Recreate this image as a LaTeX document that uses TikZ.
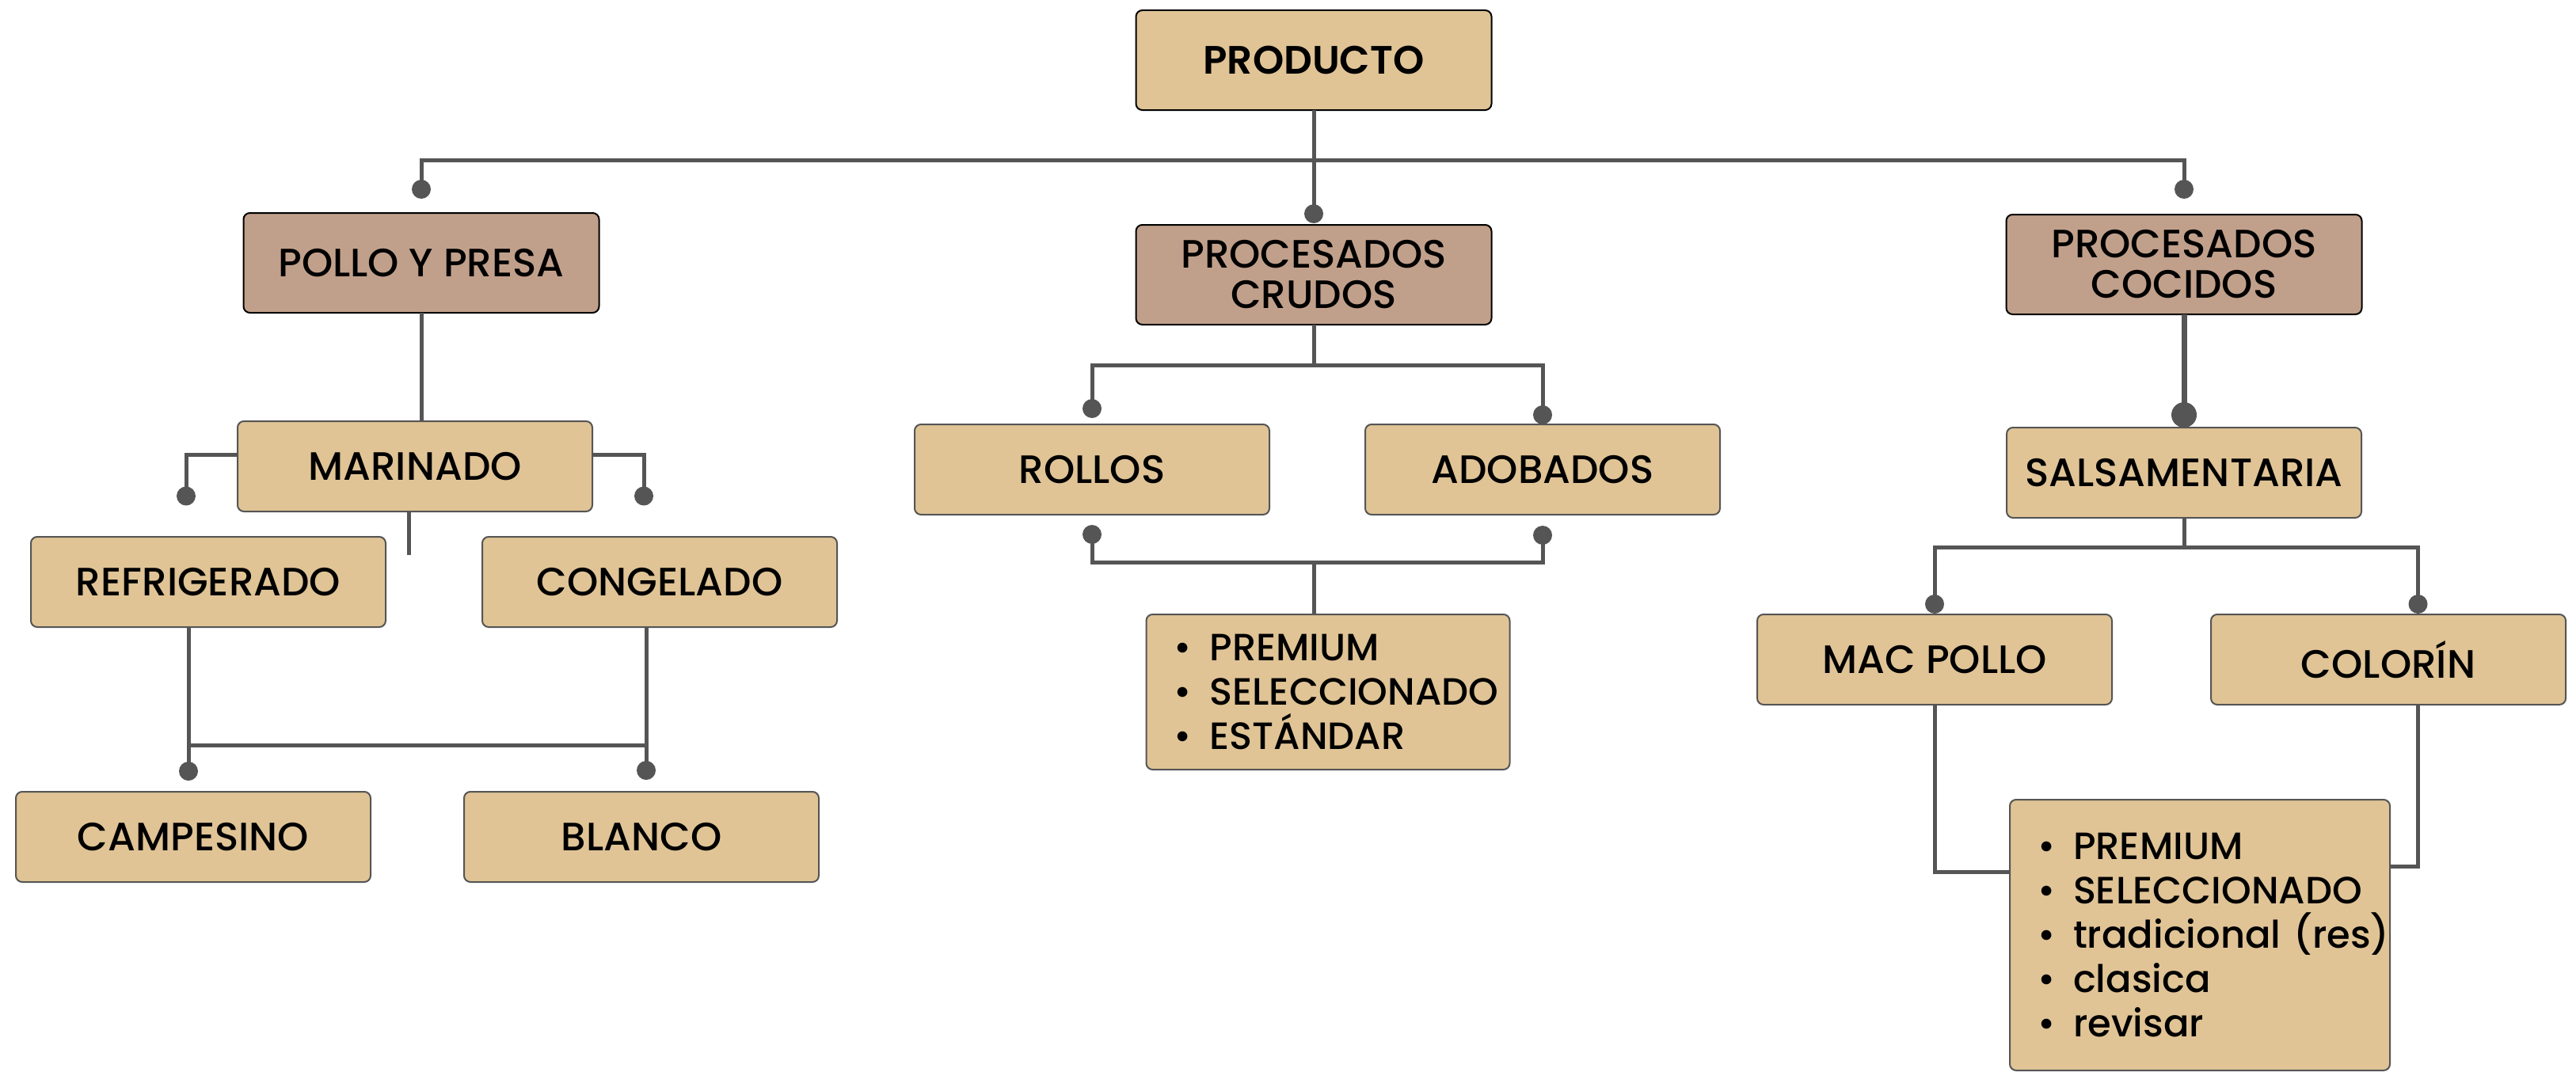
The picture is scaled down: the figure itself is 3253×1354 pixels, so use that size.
\documentclass[tikz,border=0pt]{standalone}
\usepackage{fontspec}
\setmainfont{Poppins Medium}[BoldFont=Poppins SemiBold]
\usetikzlibrary{positioning}
\definecolor{arena}{RGB}{224,196,150}
\definecolor{cafe}{RGB}{193,160,139}
\definecolor{gris}{RGB}{85,85,85}
\newcommand{\vineta}{\makebox[45pt][l]{\textbullet}}
\tikzset{
caja/.style={draw=gris, line width=2pt, fill=arena, rounded corners=8pt, minimum width=448pt, minimum height=114pt, inner sep=0pt, outer sep=0pt, font=\fontsize{50}{51}\selectfont, align=center}, % cajas de los niveles bajos
categoria/.style={caja, draw=black, fill=cafe, minimum width=449pt, minimum height=126pt}, % las tres categorias
lista/.style={caja, align=left, inner xsep=35pt, font=\fontsize{48}{56}\selectfont}, % cajas con vinetas
punto/.style={circle, fill=gris, inner sep=0pt, outer sep=0pt, minimum size=24pt}, % punto al final de cada linea
linea/.style={draw=gris, line width=5pt}, % conectores
}

\begin{document}
\begin{tikzpicture}
\fill[white] (0,0) rectangle (3253pt,-1354pt);
\useasboundingbox (0,0) rectangle (3253pt,-1354pt);

\node[categoria, fill=arena, font=\fontsize{50}{51}\selectfont\bfseries] (producto) at (1659pt,-76pt) {PRODUCTO};
\node[categoria, below=145pt of producto] (crudos) {PROCESADOS\\CRUDOS};
\node[categoria, left=678pt of crudos, yshift=15pt] (pollo) {POLLO Y PRESA};
\node[categoria, right=650pt of crudos, yshift=13pt] (cocidos) {PROCESADOS\\COCIDOS};

\node[caja, below=137pt of pollo, xshift=-8pt] (marinado) {MARINADO};
\node[caja, below=32pt of marinado, xshift=-261pt] (refri) {REFRIGERADO};
\node[caja, right=122pt of refri] (conge) {CONGELADO};
\node[caja, below=208pt of refri, xshift=-19pt] (campe) {CAMPESINO};
\node[caja, right=118pt of campe] (blanco) {BLANCO};

\node[caja, below=126pt of crudos, xshift=-280pt] (rollos) {ROLLOS};
\node[caja, right=121pt of rollos] (adob) {ADOBADOS};
\node[lista, text width=389pt, minimum height=196pt, below=126pt of rollos, xshift=298pt] (lista1) {\vineta PREMIUM\\\vineta SELECCIONADO\\\vineta ESTÁNDAR};

\node[caja, below=143pt of cocidos] (salsa) {SALSAMENTARIA};
\node[caja, below=122pt of salsa, xshift=-315pt] (macpollo) {MAC POLLO};
\node[caja, right=125pt of macpollo] (colorin) {COLORÍN};
\node[lista, text width=410pt, minimum height=342pt, below=120pt of macpollo, xshift=335pt] (lista2) {\vineta PREMIUM\\\vineta SELECCIONADO\\\vineta tradicional~(res)\\\vineta clasica\\\vineta revisar};

\node[punto, above=18pt of pollo] (dpollo) {};
\node[punto, above=2pt of crudos] (dcrudos) {};
\node[punto, above=20pt of cocidos] (dcocidos) {};
\node[punto] (dmarizq) at ([shift={(-65pt,-37.5pt)}]marinado.west) {};
\node[punto] (dmarder) at ([shift={(65pt,-37.5pt)}]marinado.east) {};
\node[punto, above=14pt of campe, xshift=-6pt] (dcampe) {};
\node[punto, above=15pt of blanco, xshift=6pt] (dblanco) {};
\node[punto, above=8pt of rollos] (drollos) {};
\node[punto, above=0pt of adob] (dadob) {};
\node[punto, below=13pt of rollos] (drollos2) {};
\node[punto, below=14pt of adob] (dadob2) {};
\node[punto, minimum size=32pt, above=0pt of salsa] (dsalsa) {};
\node[punto, above=1pt of macpollo] (dmac) {};
\node[punto, above=1pt of colorin, xshift=37.5pt] (dcolorin) {};

\coordinate[below=63pt of producto] (bus);
\coordinate[below=51pt of crudos] (buscr);
\coordinate[above=66pt of lista1] (buslo);
\coordinate[below=37pt of salsa] (busco);
\coordinate[above=33pt of dcampe.center] (busmar);
\coordinate[below=55pt of marinado, xshift=-8pt] (marfin);

\draw[linea] (dpollo.center) |- (bus) -| (dcocidos.center);
\draw[linea] (producto.south) -- (dcrudos.center);
\draw[linea] (pollo.south) -- (pollo.south |- marinado.north);
\draw[linea] ([yshift=15pt]marinado.west) -| (dmarizq.center);
\draw[linea] ([yshift=15pt]marinado.east) -| (dmarder.center);
\draw[linea] (marinado.south -| marfin) -- (marfin);
\draw[linea] (refri.south -| dcampe) -- (dcampe.center);
\draw[linea] (conge.south -| dblanco) -- (dblanco.center);
\draw[linea] (busmar) -- (busmar -| dblanco);
\draw[linea] (crudos.south) -- (buscr);
\draw[linea] (drollos.center) |- (buscr) -| (dadob.center);
\draw[linea] (drollos2.center) |- (buslo) -| (dadob2.center);
\draw[linea] (buslo -| crudos.south) -- (lista1.north -| crudos.south);
\draw[linea, line width=7pt] (cocidos.south) -- (dsalsa.center);
\draw[linea] (salsa.south) -- (busco);
\draw[linea] (dmac.center) |- (busco) -| (dcolorin.center);
\draw[linea] (macpollo.south) |- ([yshift=80pt]lista2.west);
\draw[linea] (dcolorin |- colorin.south) |- ([yshift=87pt]lista2.east);
\end{tikzpicture}
\end{document}
